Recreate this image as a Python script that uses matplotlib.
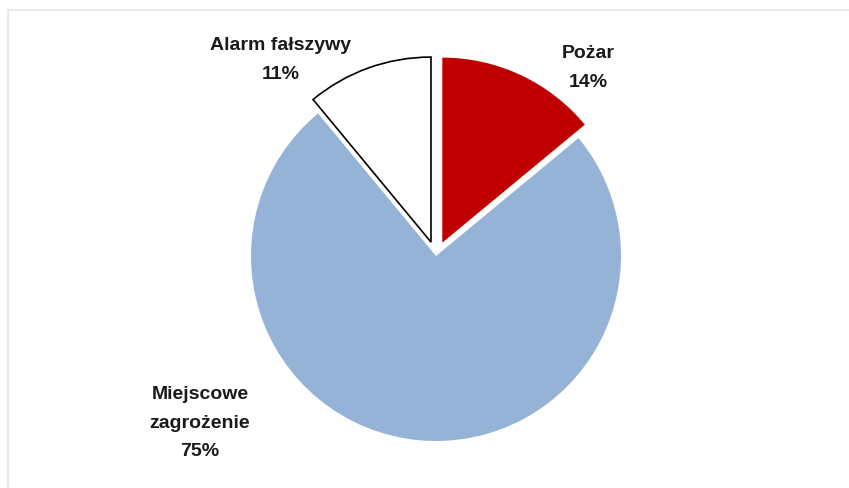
import matplotlib
matplotlib.use("Agg")
import matplotlib.pyplot as plt
from matplotlib.lines import Line2D

categories = ["Pożar", "Miejscowe\nzagrożenie", "Alarm fałszywy"]
values = [14, 75, 11]
colors = ["#C00000", "#95B3D7", "#FFFFFF"]
explode_frac = [0.08, 0.0, 0.08]
edgecolors = ["#C00000", "#95B3D7", "#000000"]

W, H = 849, 488
R = 185
fig = plt.figure(figsize=(W / 100, H / 100), dpi=100)
ax = fig.add_axes([0, 0, 1, 1])

wedges, _ = ax.pie(values, colors=colors, explode=[e * R for e in explode_frac],
                   startangle=90, counterclock=False, center=(436, H - 256),
                   radius=R, wedgeprops=dict(linewidth=1.2), frame=True)
for w, ec in zip(wedges, edgecolors):
    w.set_edgecolor(ec)
wedges[0].set_linewidth(0)
wedges[1].set_linewidth(0)
ax.set_aspect("equal")
ax.axis("off")
ax.set_xlim(0, W)
ax.set_ylim(0, H)

label_pos = [(588, 68), (200, 423), (281, 60)]
for cat, v, (x, y) in zip(categories, values, label_pos):
    ax.text(x, H - y, f"{cat}\n{v}%", ha="center", va="center",
            fontsize=14, fontweight="bold", family="Liberation Sans",
            color="#1a1a1a", linespacing=1.85)

# faint outer frame
fig.add_artist(Line2D([8 / W, 1], [1 - 10 / H, 1 - 10 / H], color="#e8e8e8", lw=1.2))
fig.add_artist(Line2D([8 / W, 8 / W], [0, 1 - 10 / H], color="#e8e8e8", lw=1.2))

fig.savefig("out.png", dpi=100)
